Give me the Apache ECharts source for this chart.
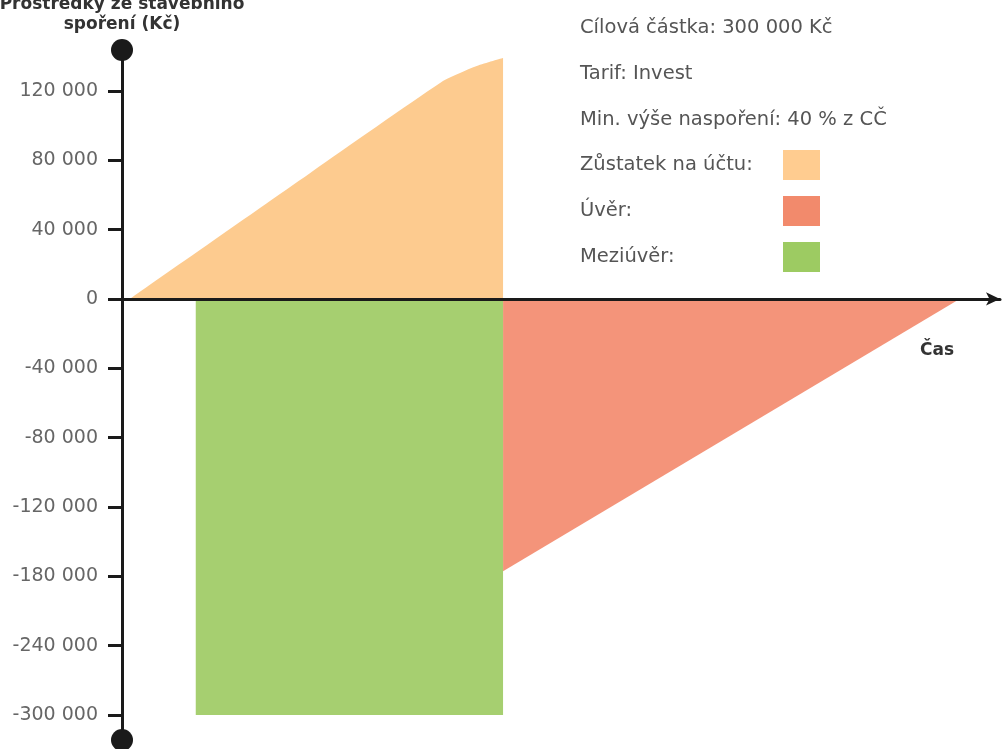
<!DOCTYPE html>
<html>
<head>
<meta charset="utf-8">
<script src="https://cdn.jsdelivr.net/npm/echarts@6/dist/echarts.min.js"></script>
<style>
html,body{margin:0;padding:0;background:#fff;}
#c{width:1002px;height:749px;}
</style>
</head>
<body>
<div id="c"></div>
<script>
// ---- data ----
const yTickValues = [120000, 80000, 40000, 0, -40000, -80000, -120000, -180000, -240000, -300000];
const yTickLabels = ['120 000', '80 000', '40 000', '0', '-40 000', '-80 000', '-120 000', '-180 000', '-240 000', '-300 000'];
// time (arbitrary units along "Čas"), balance in Kč
const balanceTime = [0.9, 21.4, 36.6, 38.5, 40.4, 43.4];
const balanceValue = [0, 72500, 125800, 130400, 134400, 139000];
const bridgeTime = [8.4, 43.4];
const bridgeValue = [-300000, -300000];
const loanTime = [43.4, 95.4];
const loanValue = [-175500, 0];
const infoLines = ['Cílová částka: 300 000 Kč', 'Tarif: Invest', 'Min. výše naspoření: 40 % z CČ'];
const seriesNames = ['Zůstatek na účtu:', 'Úvěr:', 'Meziúvěr:'];

// piecewise axis: tick positions are evenly spaced; map value -> tick index units
function toAxis(v) {
  const idx = yTickValues.map((t, i) => 3 - i); // 3..-6
  for (let i = 0; i < yTickValues.length - 1; i++) {
    const a = yTickValues[i], b = yTickValues[i + 1];
    if (v <= a && v >= b) return idx[i] + (v - a) / (b - a) * (idx[i + 1] - idx[i]);
  }
  if (v > yTickValues[0]) return idx[0] + (v - yTickValues[0]) / (yTickValues[0] - yTickValues[1]);
  const n = yTickValues.length;
  return idx[n - 1] - (yTickValues[n - 1] - v) / (yTickValues[n - 2] - yTickValues[n - 1]);
}
const tickIdx = yTickValues.map(toAxis);
const labelMap = {};
tickIdx.forEach((t, i) => { labelMap[Math.round(t)] = yTickLabels[i]; });

function pts(ts, vs) { return ts.map((t, i) => [t, toAxis(vs[i])]); }

const colors = ['#FDCB8F', '#F4947A', '#A6CF70'];
const legendColors = ['#FFCC90', '#F28A6C', '#9DCB62'];

const chart = echarts.init(document.getElementById('c'));
chart.setOption({
  animation: false,
  backgroundColor: '#fff',
  textStyle: { fontFamily: 'DejaVu Sans' },
  grid: { left: 122, right: 2, top: 50, bottom: 9, outerBoundsMode: 'none', containLabel: false },
  title: {
    text: infoLines.join('\n'),
    left: 575, top: 0,
    textStyle: { fontSize: 19.5, fontWeight: 'normal', color: '#555', lineHeight: 46, fontFamily: 'DejaVu Sans' }
  },
  legend: {
    orient: 'vertical',
    left: 575, top: 145,
    align: 'right',
    itemWidth: 37, itemHeight: 30, itemGap: 16,
    icon: 'rect',
    data: seriesNames.map((n, i) => ({ name: n, itemStyle: { color: legendColors[i] } })),
    formatter: n => '{t|' + n + '}',
    textStyle: {
      fontSize: 19.5, color: '#555', fontFamily: 'DejaVu Sans',
      rich: { t: { width: 198, align: 'left', fontSize: 19.5, color: '#555', fontFamily: 'DejaVu Sans' } }
    },
    selectedMode: false
  },
  xAxis: {
    type: 'value', min: 0, max: 100, z: 5,
    splitLine: { show: false },
    axisTick: { show: false },
    axisLabel: { show: false },
    axisLine: { onZero: true, lineStyle: { color: '#1a1a1a', width: 3 }, symbol: ['none', 'arrow'], symbolSize: [10, 14] }
  },
  yAxis: {
    type: 'value', min: -6.36, max: 3.59, z: 5,
    name: 'Prostředky ze stavebního\nspoření (Kč)',
    nameLocation: 'end', nameGap: 15,
    nameTextStyle: { fontSize: 17, fontWeight: 'bold', color: '#333', lineHeight: 20, align: 'center', fontFamily: 'DejaVu Sans' },
    splitLine: { show: false },
    axisLine: { show: true, lineStyle: { color: '#1a1a1a', width: 3 }, symbol: ['circle', 'circle'], symbolSize: [26, 22] },
    axisTick: { show: true, length: 14, lineStyle: { color: '#1a1a1a', width: 3 }, customValues: tickIdx },
    axisLabel: {
      customValues: tickIdx, margin: 24, fontSize: 19, color: '#666',
      formatter: v => labelMap[Math.round(v)]
    }
  },
  graphic: [{
    type: 'text', left: 920, top: 342,
    style: { text: 'Čas', fontSize: 17, fontWeight: 'bold', fill: '#333', fontFamily: 'DejaVu Sans' }
  }],
  series: [
    {
      name: seriesNames[0], type: 'line', data: pts(balanceTime, balanceValue), smooth: 0.3,
      symbol: 'none', lineStyle: { width: 0 }, itemStyle: { color: legendColors[0] },
      areaStyle: { color: colors[0], opacity: 1 }, z: 1
    },
    {
      name: seriesNames[1], type: 'line', data: pts(loanTime, loanValue),
      symbol: 'none', lineStyle: { width: 0 }, itemStyle: { color: legendColors[1] },
      areaStyle: { color: colors[1], opacity: 1 }, z: 1
    },
    {
      name: seriesNames[2], type: 'line', data: pts(bridgeTime, bridgeValue),
      symbol: 'none', lineStyle: { width: 0 }, itemStyle: { color: legendColors[2] },
      areaStyle: { color: colors[2], opacity: 1 }, z: 1
    }
  ]
});
</script>
</body>
</html>
